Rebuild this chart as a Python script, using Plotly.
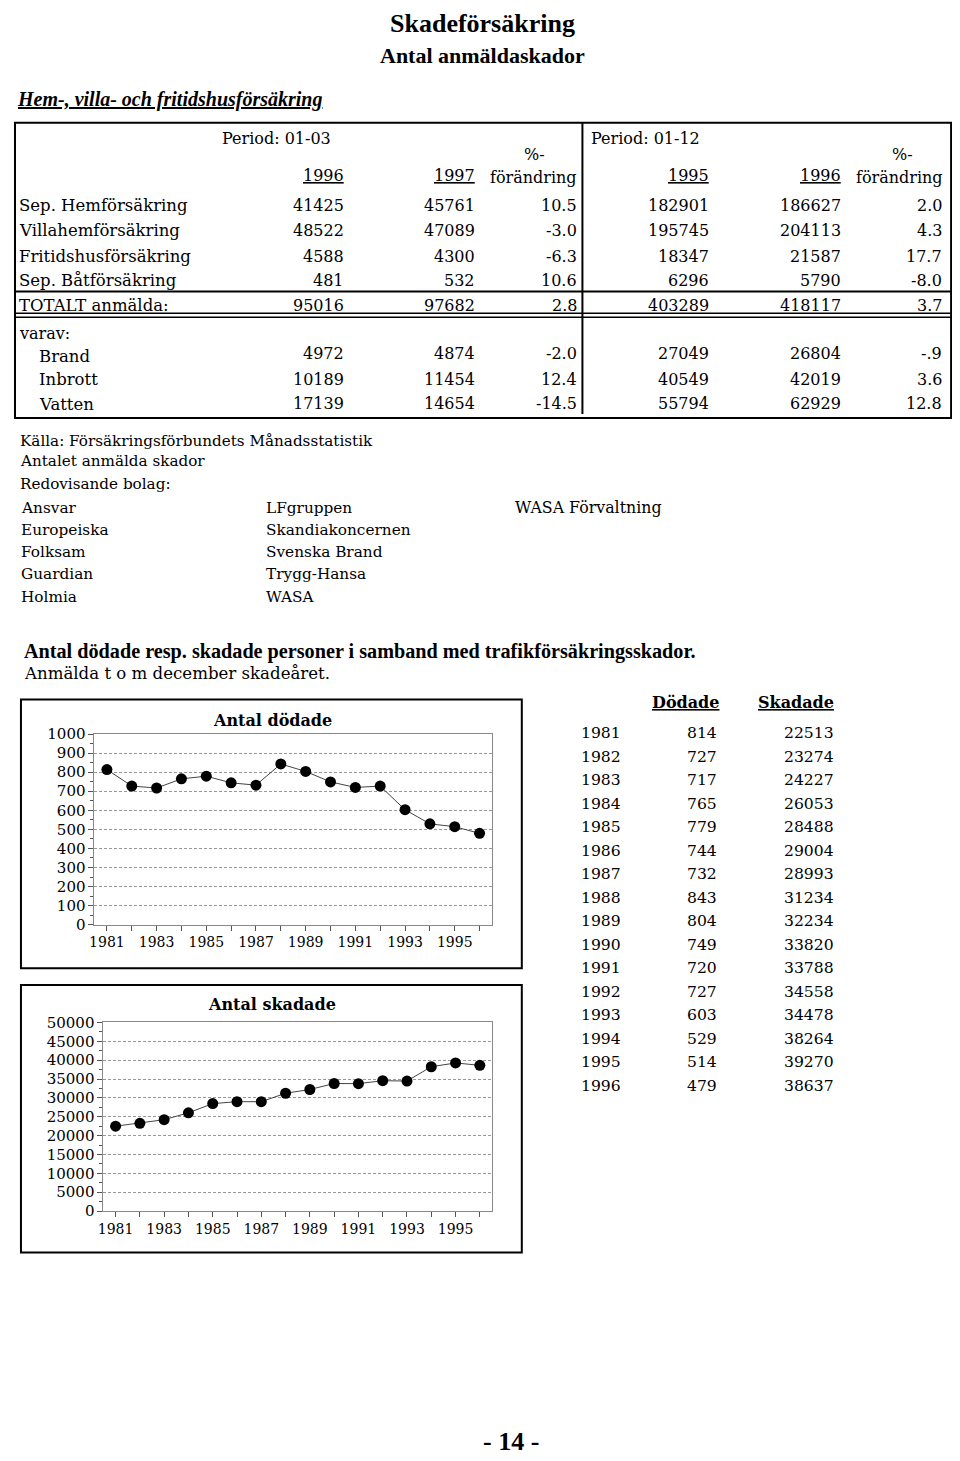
import plotly.graph_objects as go

# ---------------- data ----------------
row_labels = ["Sep. Hemförsäkring", "Villahemförsäkring", "Fritidshusförsäkring",
              "Sep. Båtförsäkring", "TOTALT anmälda:", "Brand", "Inbrott", "Vatten"]
q_1996 = [41425, 48522, 4588, 481, 95016, 4972, 10189, 17139]
q_1997 = [45761, 47089, 4300, 532, 97682, 4874, 11454, 14654]
q_pct = ["10.5", "-3.0", "-6.3", "10.6", "2.8", "-2.0", "12.4", "-14.5"]
y_1995 = [182901, 195745, 18347, 6296, 403289, 27049, 40549, 55794]
y_1996 = [186627, 204113, 21587, 5790, 418117, 26804, 42019, 62929]
y_pct = ["2.0", "4.3", "17.7", "-8.0", "3.7", "-.9", "3.6", "12.8"]

companies_col1 = ["Ansvar", "Europeiska", "Folksam", "Guardian", "Holmia"]
companies_col2 = ["LFgruppen", "Skandiakoncernen", "Svenska Brand", "Trygg-Hansa", "WASA"]
companies_col3 = ["WASA Förvaltning"]

years = [1981, 1982, 1983, 1984, 1985, 1986, 1987, 1988,
         1989, 1990, 1991, 1992, 1993, 1994, 1995, 1996]
dodade = [814, 727, 717, 765, 779, 744, 732, 843, 804, 749, 720, 727, 603, 529, 514, 479]
skadade = [22513, 23274, 24227, 26053, 28488, 29004, 28993, 31234,
           32234, 33820, 33788, 34558, 34478, 38264, 39270, 38637]
xtick_labels = ["1981", "", "1983", "", "1985", "", "1987", "", "1989", "", "1991", "",
                "1993", "", "1995", ""]

# ---------------- layout helpers ----------------
W, H = 960, 1461
OFF = 8  # page body margin in which the figure sits


def X(px):
    return (px - OFF) / W


def Y(py):
    return 1 - (py - OFF) / H


SERIF = "DejaVu Serif"
annotations = []
shapes = []


def txt(x, y, s, size=16, anchor="left", family=SERIF, color="black"):
    annotations.append(dict(x=X(x), y=Y(y), xref="paper", yref="paper", text=s,
                            showarrow=False, xanchor=anchor, yanchor="middle",
                            font=dict(family=family, size=size, color=color)))


def line(x0, y0, x1, y1, w=1.5, color="black"):
    shapes.append(dict(type="line", xref="paper", yref="paper", x0=X(x0), y0=Y(y0),
                       x1=X(x1), y1=Y(y1), line=dict(color=color, width=w)))


def rect(x0, y0, x1, y1, w=2, color="black"):
    shapes.append(dict(type="rect", xref="paper", yref="paper", x0=X(x0), y0=Y(y0),
                       x1=X(x1), y1=Y(y1), line=dict(color=color, width=w)))


# ---------------- headings ----------------
txt(479, 15, "<b>Skadeförsäkring</b>", size=26, anchor="center", family="Liberation Serif")
txt(479, 47, "<b>Antal anmäldaskador</b>", size=22, anchor="center", family="Liberation Serif")
txt(9, 92, "<b><i><u>Hem-, villa- och fritidshusförsäkring</u></i></b>", size=20,
    family="Liberation Serif")

# ---------------- top table ----------------
TR = 951
rect(9, 115, TR, 414, w=2)
line(580, 115, 580, 410, w=2)
line(9, 286, TR, 286, w=2)
line(9, 308, TR, 308, w=1.5)
line(9, 312, TR, 312, w=1.5)

txt(272, 131, "Period: 01-03", size=16, anchor="center")
txt(587, 131, "Period: 01-12", size=16)
txt(342, 168, "<u>1996</u>", size=16, anchor="right")
txt(474, 168, "<u>1997</u>", size=16, anchor="right")
txt(519, 147, "%-", size=16)
txt(577, 171, "förändring", size=16, anchor="right")
txt(709, 168, "<u>1995</u>", size=16, anchor="right")
txt(842, 168, "<u>1996</u>", size=16, anchor="right")
txt(890, 147, "%-", size=16)
txt(945, 171, "förändring", size=16, anchor="right")

label_y = [199, 224, 250, 275, 300, 352, 375, 400]
num_y = [199, 224, 250, 275, 300, 349, 375, 399]
label_x = [11, 11, 11, 11, 11, 31, 31, 31]
for i, lab in enumerate(row_labels):
    txt(label_x[i], label_y[i], lab, size=16.5)
    txt(342, num_y[i], str(q_1996[i]), size=16, anchor="right")
    txt(474, num_y[i], str(q_1997[i]), size=16, anchor="right")
    txt(577, num_y[i], q_pct[i], size=16, anchor="right")
    txt(709, num_y[i], str(y_1995[i]), size=16, anchor="right")
    txt(842, num_y[i], str(y_1996[i]), size=16, anchor="right")
    txt(944, num_y[i], y_pct[i], size=16, anchor="right")
txt(11, 328, "varav:", size=16)

# ---------------- source and companies ----------------
txt(12, 437, "Källa: Försäkringsförbundets Månadsstatistik", size=15.2)
txt(12, 458, "Antalet anmälda skador", size=15.2)
txt(12, 481, "Redovisande bolag:", size=15.2)
comp_y = [505, 527, 550, 572, 595]
for i, c in enumerate(companies_col1):
    txt(13, comp_y[i], c, size=15.3)
for i, c in enumerate(companies_col2):
    txt(260, comp_y[i], c, size=15.3)
for i, c in enumerate(companies_col3):
    txt(510, comp_y[i], c, size=15.8)

txt(16, 650, "<b>Antal dödade resp. skadade personer i samband med trafikförsäkringsskador.</b>",
    size=20.2, family="Liberation Serif")
txt(16, 673, "Anmälda t o m december skadeåret.", size=16.6)

# ---------------- right side table ----------------
txt(719, 702, "<b><u>Dödade</u></b>", size=16, anchor="right")
txt(835, 702, "<b><u>Skadade</u></b>", size=16, anchor="right")
for i, yr in enumerate(years):
    yy = 733 + i * 23.8
    txt(577, yy, str(yr), size=15.6)
    txt(717, yy, str(dodade[i]), size=15.6, anchor="right")
    txt(835, yy, str(skadade[i]), size=15.6, anchor="right")

# ---------------- chart boxes and titles ----------------
rect(15, 699, 519, 971, w=2)
rect(15, 988, 519, 1259, w=2)
txt(268, 720, "<b>Antal dödade</b>", size=16, anchor="center")
txt(268, 1008, "<b>Antal skadade</b>", size=16, anchor="center")

txt(508, 1450, "<b>- 14 -</b>", size=26, anchor="center", family="Liberation Serif")

# ---------------- charts ----------------
fig = go.Figure()
fig.add_trace(go.Scatter(x=years, y=dodade, mode="lines+markers",
                         line=dict(color="#444", width=1),
                         marker=dict(color="black", size=11),
                         xaxis="x", yaxis="y", showlegend=False))
fig.add_trace(go.Scatter(x=years, y=skadade, mode="lines+markers",
                         line=dict(color="#444", width=1),
                         marker=dict(color="black", size=11),
                         xaxis="x2", yaxis="y2", showlegend=False))

xfont = dict(family=SERIF, size=14, color="black")
yfont = dict(family=SERIF, size=15, color="black")
xcommon = dict(range=[1980.5, 1996.5], tickvals=years, ticktext=xtick_labels,
               ticks="outside", ticklen=5, tickcolor="#555", showgrid=False,
               showline=True, mirror=True, linecolor="#888", linewidth=1,
               tickfont=xfont, zeroline=False, fixedrange=True)
ycommon = dict(ticks="outside", ticklen=5, tickcolor="#555", showgrid=True,
               gridcolor="#999", griddash="3px,2px", gridwidth=1,
               showline=True, mirror=True, linecolor="#888", linewidth=1,
               tickfont=yfont, zeroline=False, fixedrange=True, tickformat="d")

fig.update_layout(
    width=W, height=H,
    margin=dict(l=0, r=0, t=0, b=0),
    paper_bgcolor="white", plot_bgcolor="white",
    showlegend=False,
    xaxis=dict(domain=[X(89), X(489)], anchor="y", **xcommon),
    yaxis=dict(domain=[Y(927), Y(734)], anchor="x", range=[0, 1000], dtick=100,
               minor=dict(dtick=50, ticks="outside", ticklen=3, tickcolor="#555"),
               **ycommon),
    xaxis2=dict(domain=[X(98), X(489)], anchor="y2", **xcommon),
    yaxis2=dict(domain=[Y(1217), Y(1026)], anchor="x2", range=[0, 50000], dtick=5000,
                minor=dict(dtick=2500, ticks="outside", ticklen=3, tickcolor="#555"),
                **ycommon),
    annotations=annotations,
    shapes=shapes,
)

fig.write_html("out.html")
